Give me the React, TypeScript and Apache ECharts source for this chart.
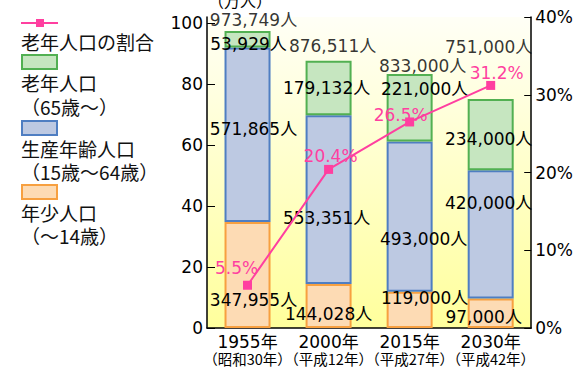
import React, { useEffect, useRef } from "react";
import * as echarts from "echarts";

// Population by age group (persons) and share of elderly (%)
const years = ["1955年", "2000年", "2015年", "2030年"];
const eras = ["（昭和30年）", "（平成12年）", "（平成27年）", "（平成42年）"];
const youngPop = [347955, 144028, 119000, 97000];
const workingPop = [571865, 553351, 493000, 420000];
const elderlyPop = [53929, 179132, 221000, 234000];
const totalPop = [973749, 876511, 833000, 751000];
const elderlyShare = [5.5, 20.4, 26.5, 31.2];
const leftTicks = [0, 20, 40, 60, 80, 100];

// label nudges [dx, dy] from each mark's anchor
const youngLabelOffset = [[6, 25], [0, 8], [15, -12], [-7, 4]];
const workingLabelOffset = [[6, -6], [-2, 18], [14, 22], [-2, -31]];
const elderlyLabelOffset = [[1, 5], [-2, 0], [15, -19], [-2, 4]];
const totalLabelOffset = [[6, -11], [4, -15], [13, -8], [-2, -52]];
const shareLabelOffset = [[-11, -17], [2, -13], [-9, -7], [6, -12]];

const PINK = "#FF3FA0";
const NUM_FONT = "'DejaVu Sans', 'Noto Sans CJK JP', sans-serif";
const JP_FONT = "'Noto Sans CJK JP', sans-serif";

const persons = (n: number) => n.toLocaleString("en-US") + "人";

function barSeries(
  name: string,
  values: number[],
  offsets: number[][],
  fill: string,
  border: string
) {
  return {
    name,
    type: "bar",
    stack: "pop",
    barWidth: 46,
    itemStyle: { color: fill, borderColor: border, borderWidth: 2 },
    data: values.map((v, i) => ({
      value: v / 10000,
      label: { offset: offsets[i] },
    })),
    label: {
      show: true,
      position: "inside",
      color: "#000",
      fontFamily: NUM_FONT,
      fontSize: 17,
      formatter: (p: any) => persons(values[p.dataIndex]),
    },
    z: 2,
  };
}

export default function App() {
  const ref = useRef<HTMLDivElement>(null);

  useEffect(() => {
    document.body.style.margin = "0";
    const chart = echarts.init(ref.current!, undefined, { renderer: "svg" });

    const legendText = (text: string, y: number) => ({
      type: "text",
      x: 21,
      y,
      style: {
        text,
        fontFamily: JP_FONT,
        fontSize: 19,
        fill: "#111",
        verticalAlign: "middle",
      },
    });
    const legendBox = (y: number, fill: string, stroke: string) => ({
      type: "rect",
      shape: { x: 22, y, width: 35, height: 14 },
      style: { fill, stroke, lineWidth: 2 },
    });

    chart.setOption({
      animation: false,
      backgroundColor: "#fff",
      grid: {
        left: 207,
        right: 44,
        top: 17,
        bottom: 39,
        show: true,
        borderWidth: 0,
        backgroundColor: new echarts.graphic.LinearGradient(0, 0, 0, 1, [
          { offset: 0, color: "#FFFFF6" },
          { offset: 1, color: "#FFFF9C" },
        ]),
      },
      xAxis: [
        {
          type: "category",
          data: years,
          axisLine: { lineStyle: { color: "#000", width: 1.5 } },
          axisTick: { inside: true, length: 8, lineStyle: { color: "#000" } },
          axisLabel: {
            interval: 0,
            margin: 6,
            lineHeight: 16,
            color: "#000",
            fontFamily: NUM_FONT,
            fontSize: 17,
          },
        },
        {
          // era names printed under the years
          type: "category",
          data: eras,
          position: "bottom",
          axisLine: { show: false },
          axisTick: { show: false },
          axisLabel: {
            interval: 0,
            margin: 23,
            lineHeight: 14,
            color: "#000",
            fontFamily: JP_FONT,
            fontSize: 14.5,
          },
        },
      ],
      yAxis: [
        {
          type: "value",
          min: 0,
          max: 102,
          position: "left",
          splitLine: { show: false },
          axisLine: { show: true, lineStyle: { color: "#000", width: 1.5 } },
          axisTick: {
            show: true,
            inside: true,
            length: 8,
            customValues: leftTicks,
            lineStyle: { color: "#000" },
          },
          axisLabel: {
            customValues: leftTicks,
            margin: 4,
            color: "#000",
            fontFamily: NUM_FONT,
            fontSize: 17,
          },
        },
        {
          type: "value",
          min: 0,
          max: 40,
          interval: 10,
          position: "right",
          splitLine: { show: false },
          axisLine: { show: true, lineStyle: { color: "#000", width: 1.5 } },
          axisTick: { show: true, inside: true, length: 7, lineStyle: { color: "#000" } },
          axisLabel: {
            margin: 4,
            color: "#000",
            fontFamily: NUM_FONT,
            fontSize: 17,
            formatter: "{value}%",
          },
        },
      ],
      series: [
        barSeries("年少人口", youngPop, youngLabelOffset, "#FDDBB4", "#F7A040"),
        barSeries("生産年齢人口", workingPop, workingLabelOffset, "#BDC9E2", "#4F7EC2"),
        barSeries("老年人口", elderlyPop, elderlyLabelOffset, "#C6E6C0", "#52B052"),
        {
          name: "総人口",
          type: "scatter",
          symbolSize: 0,
          data: totalPop.map((v, i) => ({
            value: v / 10000,
            label: { offset: totalLabelOffset[i] },
          })),
          label: {
            show: true,
            position: "inside",
            color: "#000",
            fontFamily: NUM_FONT,
            fontSize: 17,
            formatter: (p: any) => persons(totalPop[p.dataIndex]),
          },
          z: 4,
        },
        {
          name: "老年人口の割合",
          type: "line",
          yAxisIndex: 1,
          symbol: "rect",
          symbolSize: 9,
          lineStyle: { color: PINK, width: 2 },
          itemStyle: { color: PINK },
          data: elderlyShare.map((v, i) => ({
            value: v,
            label: { offset: shareLabelOffset[i] },
          })),
          label: {
            show: true,
            position: "inside",
            color: PINK,
            fontFamily: NUM_FONT,
            fontSize: 17,
            formatter: "{c}%",
          },
          z: 5,
        },
      ],
      graphic: [
        {
          type: "text",
          x: 208,
          y: -8,
          style: { text: "（万人）", fontFamily: JP_FONT, fontSize: 16, fill: "#000" },
        },
        {
          type: "line",
          shape: { x1: 21, y1: 23, x2: 58, y2: 23 },
          style: { stroke: PINK, lineWidth: 2 },
        },
        {
          type: "rect",
          shape: { x: 36, y: 19, width: 8, height: 8 },
          style: { fill: PINK },
        },
        legendText("老年人口の割合", 41),
        legendBox(55, "#C6E6C0", "#52B052"),
        legendText("老年人口", 82),
        legendText("（65歳～）", 106),
        legendBox(121, "#BDC9E2", "#4F7EC2"),
        legendText("生産年齢人口", 148),
        legendText("（15歳～64歳）", 171),
        legendBox(185, "#FDDBB4", "#F7A040"),
        legendText("年少人口", 212),
        legendText("（～14歳）", 235),
      ],
    });

    return () => chart.dispose();
  }, []);

  return <div ref={ref} style={{ width: 576, height: 367 }} />;
}
